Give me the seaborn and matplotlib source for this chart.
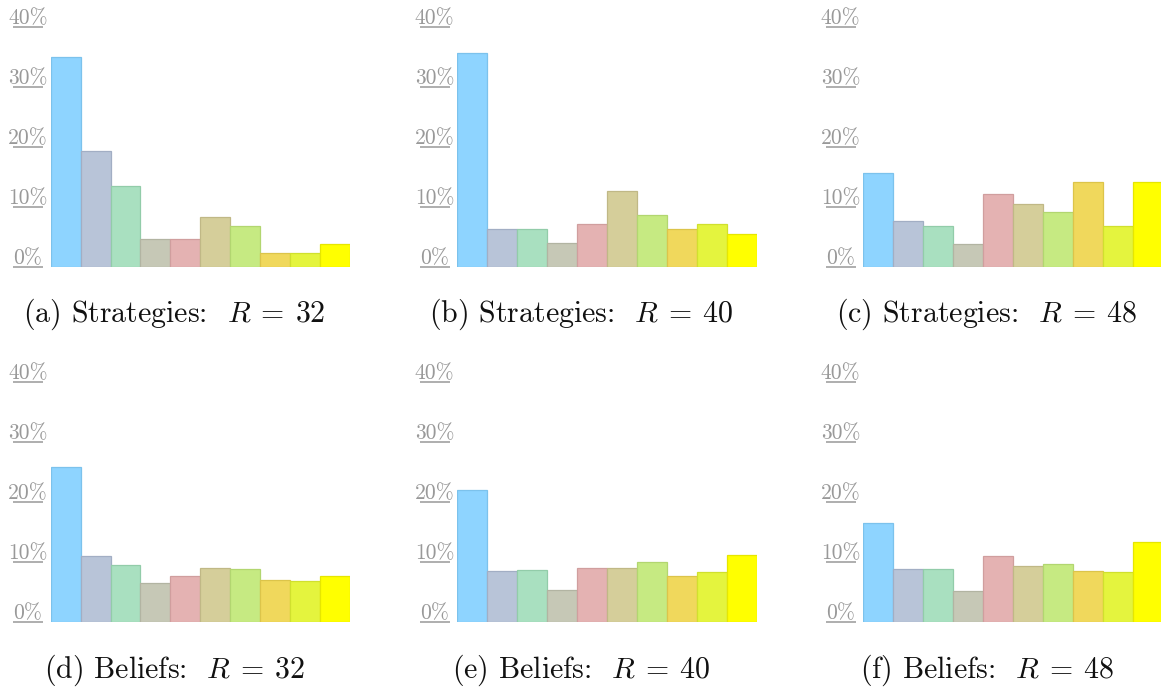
import matplotlib
matplotlib.use("Agg")
import matplotlib.pyplot as plt
import seaborn as sns
import pandas as pd

# ---- data (percent) ----
categories = ["c1", "c2", "c3", "c4", "c5", "c6", "c7", "c8", "c9", "c10"]
strategies_r32 = [35.0, 19.4, 13.5, 4.6, 4.6, 8.3, 6.8, 2.3, 2.3, 3.8]
strategies_r40 = [35.7, 6.3, 6.3, 4.0, 7.1, 12.7, 8.7, 6.3, 7.1, 5.5]
strategies_r48 = [15.7, 7.6, 6.8, 3.8, 12.1, 10.5, 9.1, 14.2, 6.8, 14.2]
beliefs_r32 = [25.9, 11.0, 9.5, 6.6, 7.7, 9.0, 8.9, 7.0, 6.9, 7.7]
beliefs_r40 = [22.1, 8.6, 8.7, 5.4, 9.0, 9.0, 10.1, 7.8, 8.4, 11.2]
beliefs_r48 = [16.5, 8.9, 8.9, 5.3, 11.0, 9.4, 9.7, 8.6, 8.4, 13.4]
captions = [
    r"(a) Strategies:  $R\:=\:32$",
    r"(b) Strategies:  $R\:=\:40$",
    r"(c) Strategies:  $R\:=\:48$",
    r"(d) Beliefs:  $R\:=\:32$",
    r"(e) Beliefs:  $R\:=\:40$",
    r"(f) Beliefs:  $R\:=\:48$",
]
ytick_values = [0, 10, 20, 30, 40]
ytick_labels = ["0%", "10%", "20%", "30%", "40%"]

fill_colors = ["#8ed4ff", "#b8c4d8", "#a9e0c0", "#c6c8b6", "#e4b2b2",
               "#d5ce9a", "#c6ea82", "#f0d85c", "#e4f43e", "#ffff00"]
edge_colors = ["#7cc2ec", "#a2aec4", "#92cca9", "#b2b4a2", "#d09e9e",
               "#c0b886", "#b2d670", "#dcc44a", "#d0e02e", "#e6e600"]

sns.set_theme(style="white")
plt.rcParams["font.family"] = ["cmr10", "DejaVu Serif"]
plt.rcParams["mathtext.fontset"] = "cm"
plt.rcParams["axes.unicode_minus"] = False

W, H = 1161, 690
fig = plt.figure(figsize=(W / 100, H / 100), dpi=100)

ax_w = 299.3
ax_h = 240.0
lefts = [50.7, 457.3, 863.3]
baselines = [267.0, 622.3]

series = [strategies_r32, strategies_r40, strategies_r48,
          beliefs_r32, beliefs_r40, beliefs_r48]

label_color = "#999999"
for i, vals in enumerate(series):
    row, col = divmod(i, 3)
    left = lefts[col]
    base = baselines[row]
    ax = fig.add_axes([left / W, (H - base) / H, ax_w / W, ax_h / H])
    df = pd.DataFrame({"cat": categories, "val": vals})
    sns.barplot(data=df, x="cat", y="val", hue="cat", palette=fill_colors,
                width=1.0, legend=False, ax=ax, saturation=1)
    for p, ec in zip(ax.patches, edge_colors):
        p.set_edgecolor(ec)
        p.set_linewidth(0.9)
    ax.set_xlim(-0.5, 9.5)
    ax.set_ylim(0, 40)
    ax.set_xlabel("")
    ax.set_ylabel("")
    ax.set_xticks([])
    ax.set_yticks([])
    for s in ax.spines.values():
        s.set_visible(False)
    trans = ax.get_yaxis_transform()
    cx = -22.7 / ax_w
    half = 15.0 / ax_w
    for v, lab in zip(ytick_values, ytick_labels):
        ax.plot([cx - half, cx + half], [v, v], transform=trans,
                color=label_color, lw=1.1, clip_on=False, solid_capstyle="butt")
        ax.annotate(lab, xy=(cx, v), xycoords=trans, xytext=(0, 2.0),
                    textcoords="offset points", ha="center", va="baseline",
                    color=label_color, fontsize=15.5, annotation_clip=False)
    ax.text(0.5 - 26 / ax_w, -55 / ax_h, captions[i], transform=ax.transAxes,
            ha="center", va="baseline", fontsize=21.5, color="#111111")

fig.savefig("out.png", dpi=100, facecolor="white")
